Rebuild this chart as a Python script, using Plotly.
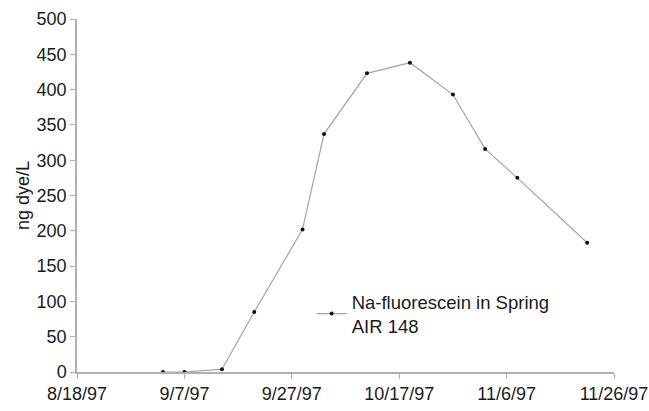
import plotly.graph_objects as go

dates = ["1997-09-03", "1997-09-07", "1997-09-14", "1997-09-20", "1997-09-29",
         "1997-10-03", "1997-10-11", "1997-10-19", "1997-10-27", "1997-11-02",
         "1997-11-08", "1997-11-21"]
values = [0, 0, 4, 85, 202, 337, 423, 438, 393, 316, 275, 183]

tick_dates = ["1997-08-18", "1997-09-07", "1997-09-27", "1997-10-17", "1997-11-06", "1997-11-26"]
tick_labels = ["8/18/97", "9/7/97", "9/27/97", "10/17/97", "11/6/97", "11/26/97"]
y_ticks = [0, 50, 100, 150, 200, 250, 300, 350, 400, 450, 500]

font = "Liberation Sans, Arial, sans-serif"
txt = "#1a1a1a"

fig = go.Figure()
fig.add_trace(go.Scatter(
    x=dates, y=values, mode="lines+markers",
    name="Na-fluorescein in Spring<br>AIR 148",
    line=dict(color="#a3a3a3", width=1.2),
    marker=dict(color="#111111", size=4),
))

fig.update_layout(
    width=649, height=411,
    margin=dict(l=77, r=35, t=19, b=39, autoexpand=False),
    paper_bgcolor="white", plot_bgcolor="white",
    font=dict(family=font, size=18, color=txt),
    showlegend=True,
    legend=dict(x=0.437, y=0.252, xanchor="left", yanchor="top",
                bgcolor="rgba(0,0,0,0)", font=dict(size=18.5, color=txt),
                itemwidth=30, tracegroupgap=0),
    xaxis=dict(
        type="date", range=["1997-08-18", "1997-11-26"],
        tickvals=tick_dates, ticktext=tick_labels,
        showgrid=False, zeroline=False,
        showline=True, linecolor="#b0b0b0", linewidth=1.5,
        ticks="outside", ticklen=5, tickcolor="#b0b0b0",
        tickfont=dict(size=18, color=txt),
    ),
    yaxis=dict(
        range=[0, 500], tickvals=y_ticks,
        showgrid=False, zeroline=False,
        showline=True, linecolor="#b0b0b0", linewidth=1.5,
        ticks="outside", ticklen=5, tickcolor="#b0b0b0",
        tickfont=dict(size=18, color=txt),
        title=dict(text="ng dye/L", font=dict(size=18, color=txt), standoff=2),
    ),
)

fig.write_html("out.html", config={"displayModeBar": False},
               post_script="document.body.style.margin='0';")
